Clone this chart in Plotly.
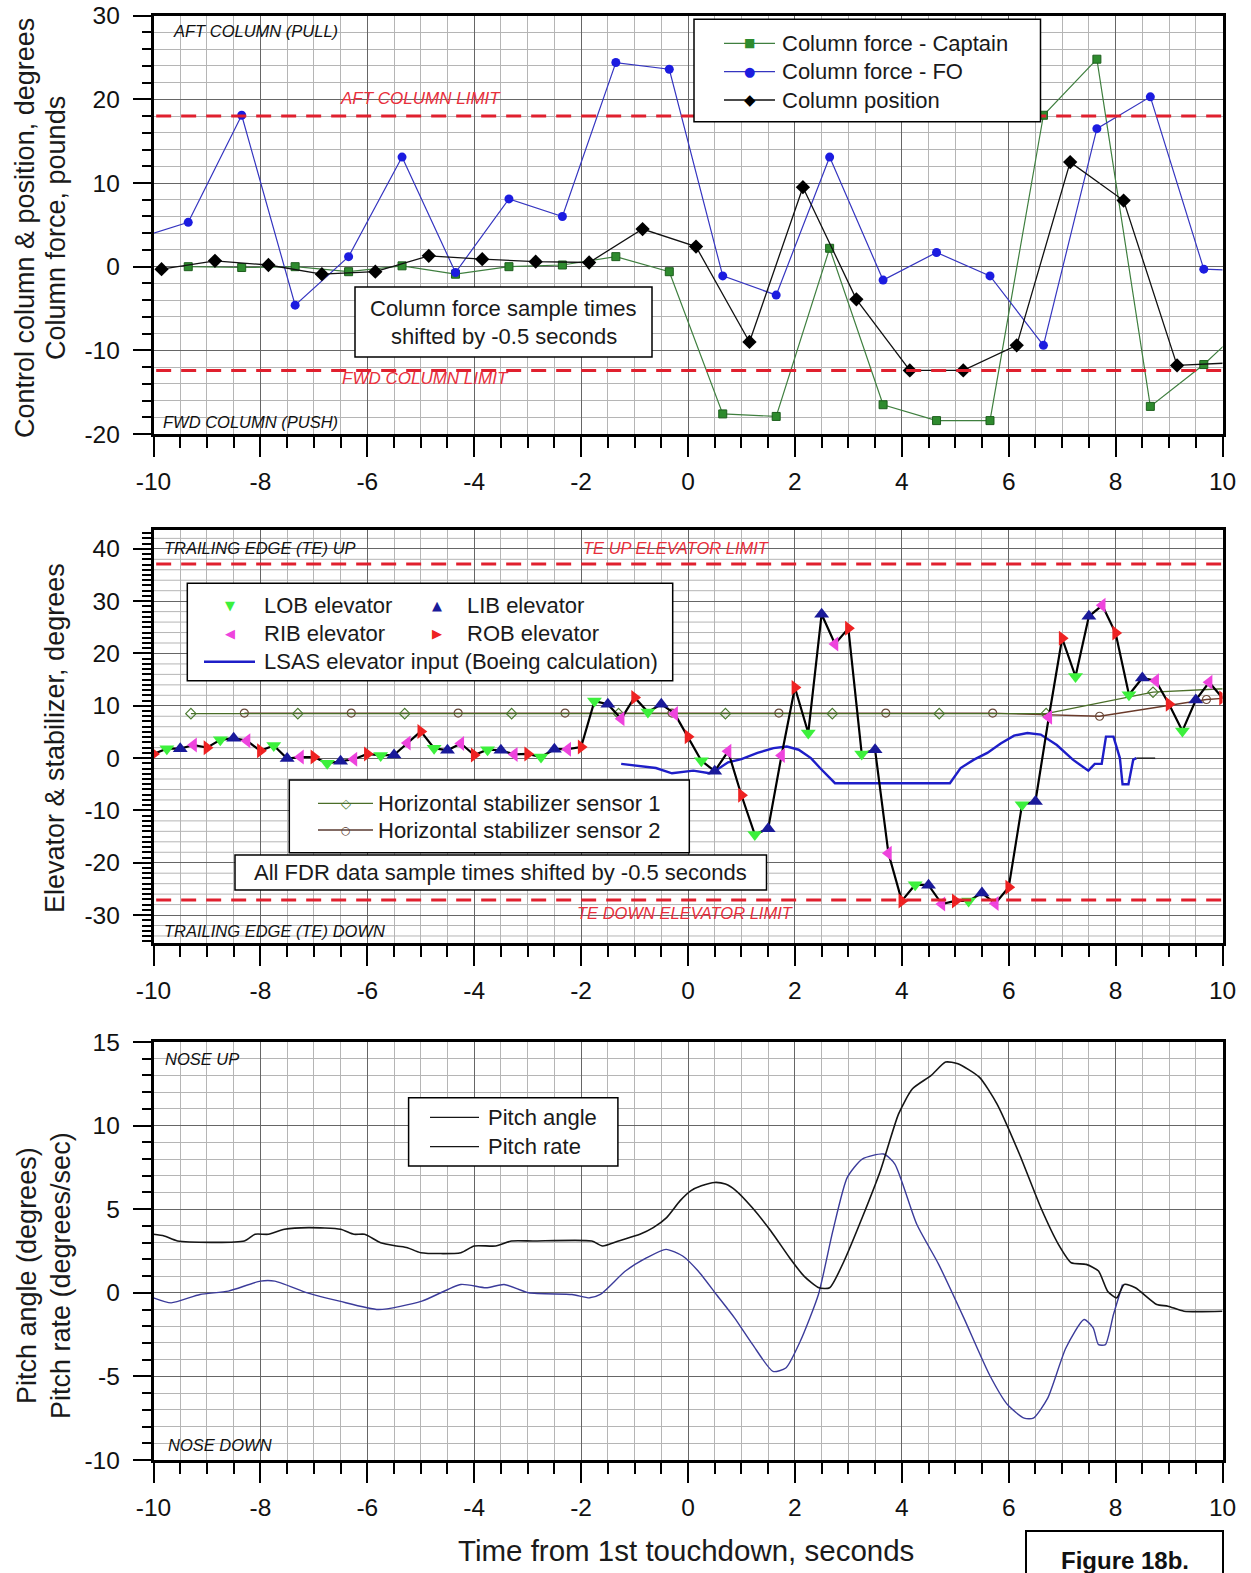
import plotly.graph_objects as go

W, H = 1251, 1573
FONT = "Liberation Sans, Arial, sans-serif"
GLYPH = "DejaVu Sans, sans-serif"

# ---------------- top panel data ----------------
fo_t = [-10.35, -9.35, -8.35, -7.35, -6.35, -5.35, -4.35, -3.35, -2.35, -1.35, -0.35,
        0.65, 1.65, 2.65, 3.65, 4.65, 5.65, 6.65, 7.65, 8.65, 9.65, 10.65]
fo_force = [3.3, 5.3, 18.1, -4.6, 1.2, 13.1, -0.7, 8.1, 6.0, 24.4, 23.6,
            -1.1, -3.4, 13.1, -1.6, 1.7, -1.1, -9.4, 16.5, 20.3, -0.3, -0.5]
captain_t = [-9.35, -8.35, -7.35, -6.35, -5.35, -4.35, -3.35, -2.35, -1.35, -0.35,
             0.65, 1.65, 2.65, 3.65, 4.65, 5.65, 6.65, 7.65, 8.65, 9.65, 10.65]
captain_force = [0.0, -0.1, 0.0, -0.6, 0.1, -0.9, 0.0, 0.2, 1.2, -0.6,
                 -17.6, -17.9, 2.2, -16.5, -18.4, -18.4, 18.1, 24.8, -16.7, -11.7, -5.7]
position_t = [-9.85, -8.85, -7.85, -6.85, -5.85, -4.85, -3.85, -2.85, -1.85, -0.85,
              0.15, 1.15, 2.15, 3.15, 4.15, 5.15, 6.15, 7.15, 8.15, 9.15, 10.15]
column_position = [-0.3, 0.7, 0.2, -0.9, -0.6, 1.3, 0.9, 0.6, 0.5, 4.5,
                   2.4, -9.0, 9.5, -3.9, -12.4, -12.4, -9.4, 12.5, 7.9, -11.8, -11.5]
AFT_LIMIT = 18.0
FWD_LIMIT = -12.4

# ---------------- middle panel data ----------------
rob_t = [-10, -9, -8, -7, -6, -5, -4, -3, -2, -1, 0, 1, 2, 3, 4, 5, 6, 7, 8, 9, 10]
rob = [0.8, 2.0, 1.4, 0.2, 0.8, 5.1, 0.6, 0.8, 2.1, 11.6, 4.1, -7.1, 13.5, 24.8,
       -27.3, -27.3, -24.7, 22.9, 23.9, 10.3, 11.5]
lob_t = [-9.75, -8.75, -7.75, -6.75, -5.75, -4.75, -3.75, -2.75, -1.75, -0.75,
         0.25, 1.25, 2.25, 3.25, 4.25, 5.25, 6.25, 7.25, 8.25, 9.25]
lob = [1.8, 3.5, 2.4, -1.0, 0.5, 1.9, 1.6, 0.2, 10.9, 8.8,
       -0.5, -14.6, 4.8, 0.8, -24.2, -27.3, -8.9, 15.6, 12.1, 5.2]
lib_t = [-9.5, -8.5, -7.5, -6.5, -5.5, -4.5, -3.5, -2.5, -1.5, -0.5,
         0.5, 1.5, 2.5, 3.5, 4.5, 5.5, 6.5, 7.5, 8.5, 9.5]
lib = [1.8, 3.8, -0.1, -0.6, 0.6, 1.5, 1.5, 1.7, 10.3, 10.3,
       -2.5, -13.5, 27.5, 1.6, -24.3, -25.8, -8.3, 27.1, 15.3, 11.1]
rib_t = [-9.25, -8.25, -7.25, -6.25, -5.25, -4.25, -3.25, -2.25, -1.25, -0.25,
         0.75, 1.75, 2.75, 3.75, 4.75, 5.75, 6.75, 7.75, 8.75, 9.75]
rib = [2.5, 3.3, 0.2, -0.2, 2.9, 2.8, 0.7, 1.7, 7.5, 8.5,
       1.3, 0.5, 21.8, -18.2, -27.9, -27.8, 7.8, 29.2, 14.8, 14.5]
lsas_t = [-1.25, -0.9, -0.6, -0.3, 0.1, 0.4, 0.5, 0.75, 1.0, 1.3, 1.6, 1.85, 2.07, 2.3,
          2.47, 2.75, 4.9, 5.1, 5.35, 5.6, 5.85, 6.1, 6.35, 6.6, 6.9, 7.2, 7.49, 7.61,
          7.74, 7.82, 7.96, 8.08, 8.13, 8.24, 8.33, 8.39]
lsas = [-1.1, -1.5, -1.9, -2.9, -2.4, -2.9, -2.5, -0.8, -0.2, 1.0, 1.9, 2.2, 1.6, 0.0,
        -1.9, -4.8, -4.8, -1.9, -0.3, 1.0, 2.8, 4.3, 4.8, 4.5, 2.5, -0.3, -2.4, -1.1,
        -1.1, 4.1, 4.1, 0.0, -5.0, -5.0, -0.3, 0.0]
lsas_tail_t = [8.39, 8.74]
lsas_tail = [0.0, 0.0]
stab1_t = [-9.3, -7.3, -5.3, -3.3, -1.3, 0.7, 2.7, 4.7, 6.7, 8.7, 10.7]
stab1 = [8.5, 8.5, 8.5, 8.5, 8.5, 8.5, 8.5, 8.5, 8.5, 12.6, 13.6]
stab2_t = [-8.3, -6.3, -4.3, -2.3, -0.3, 1.7, 3.7, 5.7, 7.7, 9.7, 11.7]
stab2 = [8.6, 8.6, 8.6, 8.6, 8.6, 8.6, 8.6, 8.6, 8.0, 11.2, 12.5]
TE_UP_LIMIT = 37.1
TE_DOWN_LIMIT = -27.1

# ---------------- bottom panel data ----------------
pitch_t = [-10, -9.8, -9.55, -8.3, -8.1, -7.85, -7.55, -7.1, -6.5, -6.25, -6.05, -5.75,
           -5.45, -5.25, -5.0, -4.25, -4.0, -3.6, -3.3, -2.9, -1.8, -1.6, -1.3, -0.9,
           -0.65, -0.4, -0.15, 0.05, 0.25, 0.5, 0.7, 0.9, 1.2, 1.55, 1.9, 2.17, 2.45,
           2.65, 2.92, 3.26, 3.6, 3.94, 4.2, 4.55, 4.82, 5.05, 5.45, 5.78, 6.2, 6.6,
           6.93, 7.17, 7.45, 7.68, 7.85, 8.02, 8.16, 8.37, 8.77, 8.98, 9.28, 10.0]
pitch_angle = [3.5, 3.4, 3.1, 3.1, 3.5, 3.5, 3.8, 3.9, 3.8, 3.5, 3.5, 3.0,
               2.8, 2.7, 2.4, 2.4, 2.8, 2.8, 3.1, 3.1, 3.1, 2.8, 3.1, 3.5,
               3.9, 4.5, 5.5, 6.1, 6.4, 6.6, 6.5, 6.1, 5.1, 3.7, 2.1, 1.0, 0.3,
               0.3, 1.9, 4.5, 7.3, 10.7, 12.2, 13.0, 13.8, 13.7, 12.9, 11.3, 8.3, 5.1,
               2.9, 1.8, 1.7, 1.3, 0.1, -0.3, 0.5, 0.3, -0.7, -0.8, -1.1, -1.1]
rate_t = [-10, -9.67, -9.13, -8.6, -8.0, -7.73, -7.12, -6.52, -5.79, -4.98, -4.25, -3.78,
          -3.44, -2.98, -2.17, -1.84, -1.64, -1.17, -0.77, -0.41, -0.1, 0.19, 0.53, 0.87,
          1.21, 1.59, 1.83, 2.1, 2.44, 2.71, 2.98, 3.26, 3.66, 3.87, 4.28, 4.69, 5.16,
          5.64, 5.98, 6.29, 6.46, 6.73, 7.07, 7.41, 7.58, 7.68, 7.81, 7.96, 8.13]
pitch_rate = [-0.3, -0.6, -0.1, 0.1, 0.7, 0.7, 0.0, -0.5, -1.0, -0.5, 0.5, 0.3,
              0.5, 0.0, -0.1, -0.3, -0.1, 1.3, 2.1, 2.6, 2.2, 1.3, -0.1, -1.5,
              -3.1, -4.7, -4.5, -2.9, -0.1, 3.7, 6.9, 8.0, 8.3, 7.7, 4.1, 1.7, -1.5,
              -4.9, -6.7, -7.5, -7.5, -6.3, -3.3, -1.6, -2.1, -3.1, -3.1, -1.3, 0.5]

# ---------------- tick labels ----------------
x_tick_vals = [-10, -8, -6, -4, -2, 0, 2, 4, 6, 8, 10]
x_tick_text = ["-10", "-8", "-6", "-4", "-2", "0", "2", "4", "6", "8", "10"]
y1_tick_vals = [-20, -10, 0, 10, 20, 30]
y1_tick_text = ["-20", "-10", "0", "10", "20", "30"]
y2_tick_vals = [-30, -20, -10, 0, 10, 20, 30, 40]
y2_tick_text = ["-30", "-20", "-10", "0", "10", "20", "30", "40"]
y3_tick_vals = [-10, -5, 0, 5, 10, 15]
y3_tick_text = ["-10", "-5", "0", "5", "10", "15"]


def px(x):
    return x / W


def py(y):
    return 1 - y / H


fig = go.Figure()

# top panel traces
fig.add_trace(go.Scatter(x=captain_t, y=captain_force, mode="lines+markers", xaxis="x", yaxis="y",
                         line=dict(color="#3f7f3f", width=1.2),
                         marker=dict(symbol="square", size=8, color="#2e8b2e",
                                     line=dict(color="#1d5e1d", width=1))))
fig.add_trace(go.Scatter(x=fo_t, y=fo_force, mode="lines+markers", xaxis="x", yaxis="y",
                         line=dict(color="#3535c0", width=1.2),
                         marker=dict(symbol="circle", size=9, color="#1c1ce0")))
fig.add_trace(go.Scatter(x=position_t, y=column_position, mode="lines+markers", xaxis="x", yaxis="y",
                         line=dict(color="#111111", width=1.3),
                         marker=dict(symbol="diamond", size=11, color="#000000")))

# middle panel traces
fig.add_trace(go.Scatter(x=stab2_t, y=stab2, mode="lines+markers", xaxis="x2", yaxis="y2",
                         line=dict(color="#6a3a2a", width=1.3),
                         marker=dict(symbol="circle-open", size=8, color="#6a4a3a", line=dict(width=1.2))))
fig.add_trace(go.Scatter(x=stab1_t, y=stab1, mode="lines+markers", xaxis="x2", yaxis="y2",
                         line=dict(color="#4a6e28", width=1.3),
                         marker=dict(symbol="diamond-open", size=8, color="#4a7a30", line=dict(width=1.2))))
fig.add_trace(go.Scatter(x=lsas_t, y=lsas, mode="lines", xaxis="x2", yaxis="y2",
                         line=dict(color="#1e1ec8", width=2.4)))
fig.add_trace(go.Scatter(x=lsas_tail_t, y=lsas_tail, mode="lines", xaxis="x2", yaxis="y2",
                         line=dict(color="#111111", width=1.3)))

elev_pairs = sorted(list(zip(rob_t, rob)) + list(zip(lob_t, lob)) +
                    list(zip(lib_t, lib)) + list(zip(rib_t, rib)))
fig.add_trace(go.Scatter(x=[p[0] for p in elev_pairs], y=[p[1] for p in elev_pairs],
                         mode="lines", xaxis="x2", yaxis="y2",
                         line=dict(color="#000000", width=2.2)))
for tt, vv, sym, col in [(lob_t, lob, "triangle-down", "#3cf03c"),
                         (lib_t, lib, "triangle-up", "#1a1a9a"),
                         (rib_t, rib, "triangle-left", "#ee44dd"),
                         (rob_t, rob, "triangle-right", "#ee2222")]:
    fig.add_trace(go.Scatter(x=tt, y=vv, mode="markers", xaxis="x2", yaxis="y2",
                             marker=dict(symbol=sym, size=13, color=col)))

# bottom panel traces
fig.add_trace(go.Scatter(x=rate_t, y=pitch_rate, mode="lines", xaxis="x3", yaxis="y3",
                         line=dict(color="#3b3b9a", width=1.4, shape="spline", smoothing=0.6)))
fig.add_trace(go.Scatter(x=pitch_t, y=pitch_angle, mode="lines", xaxis="x3", yaxis="y3",
                         line=dict(color="#151515", width=1.6, shape="spline", smoothing=0.6)))

X_DOM = [px(153.5), px(1222.5)]
Y1_DOM = [py(434), py(15.7)]
Y2_DOM = [py(943.3), py(530)]
Y3_DOM = [py(1460), py(1042)]

tickfont = dict(family=FONT, size=24.5, color="#111111")
GRID_MAJ = "#666666"
GRID_MIN = "#b5b5b5"


def xaxis_cfg(anchor):
    return dict(domain=X_DOM, anchor=anchor, range=[-10, 10], tickmode="array",
                tickvals=x_tick_vals, ticktext=x_tick_text, ticks="outside", ticklen=20,
                tickwidth=2.2, tickcolor="black", showline=True, linewidth=2.5, linecolor="black",
                mirror=True, showgrid=True, gridcolor=GRID_MAJ, gridwidth=1.2, zeroline=False,
                tickfont=tickfont, ticklabelstandoff=4, automargin=False,
                minor=dict(tickmode="linear", tick0=-10, dtick=0.5, ticks="outside", ticklen=11,
                           tickwidth=2, tickcolor="black", showgrid=True, gridcolor=GRID_MIN,
                           gridwidth=1))


def yaxis_cfg(anchor, dom, rng, vals, text, mdt, mgrid):
    return dict(domain=dom, anchor=anchor, range=rng, tickmode="array", tickvals=vals,
                ticktext=text, ticks="outside", ticklen=18, tickwidth=2.2, tickcolor="black",
                showline=True, linewidth=2.5, linecolor="black", mirror=True, showgrid=True,
                gridcolor=GRID_MAJ, gridwidth=1.2, zeroline=False, tickfont=tickfont,
                ticklabelstandoff=8, automargin=False,
                minor=dict(tickmode="linear", tick0=0, dtick=mdt, ticks="outside", ticklen=9,
                           tickwidth=2, tickcolor="black", showgrid=mgrid, gridcolor=GRID_MIN,
                           gridwidth=1))


shapes = []
ann = []

# extra 2-degree grid for middle panel (ticks are every degree)
for v in range(-34, 44, 2):
    if v % 10 != 0:
        shapes.append(dict(type="line", xref="x2 domain", yref="y2", x0=0, x1=1, y0=v, y1=v,
                           line=dict(color=GRID_MIN, width=1), layer="below"))

# limit lines
LIMIT_RED = "#e0202e"
for xr, yr, val in [("x", "y", AFT_LIMIT), ("x", "y", FWD_LIMIT),
                    ("x2", "y2", TE_UP_LIMIT), ("x2", "y2", TE_DOWN_LIMIT)]:
    shapes.append(dict(type="line", xref=xr, yref=yr, x0=-9.95, x1=10, y0=val, y1=val,
                       line=dict(color=LIMIT_RED, width=3, dash="15px,10px"), layer="above"))


def rect(x0, y0, x1, y1, lw=1.5):
    shapes.append(dict(type="rect", xref="paper", yref="paper", x0=px(x0), x1=px(x1),
                       y0=py(y1), y1=py(y0), line=dict(color="black", width=lw),
                       fillcolor="white", layer="above"))


def seg(x0, x1, y, color, width):
    shapes.append(dict(type="line", xref="paper", yref="paper", x0=px(x0), x1=px(x1),
                       y0=py(y), y1=py(y), line=dict(color=color, width=width), layer="above"))


def text(x, y, s, size, color="#1a1a1a", anchor="left", family=FONT, angle=0):
    ann.append(dict(x=px(x), y=py(y), xref="paper", yref="paper", text=s, showarrow=False,
                    xanchor=anchor, yanchor="middle", textangle=angle,
                    font=dict(size=size, color=color, family=family)))


RED_TXT = "#e8303c"
LBL = "#111111"
# ---- top panel decorations ----
text(171, 31.5, "<i>AFT COLUMN (PULL)</i>", 16.5, LBL)
text(338, 99, "<i>AFT COLUMN LIMIT</i>", 17, RED_TXT)
text(340, 379, "<i>FWD COLUMN LIMIT</i>", 17, RED_TXT)
text(161, 422, "<i>FWD COLUMN (PUSH)</i>", 16.5, LBL)

rect(355, 287, 652, 357)
text(503.5, 308, "Column force sample times", 22, anchor="center")
text(503.5, 336.5, "shifted by -0.5 seconds", 22, anchor="center")

rect(694, 19.3, 1040.5, 121.7)
for yy, col, glyph, gsize, label in [(43.3, "#3f7f3f", "■", 12, "Column force - Captain"),
                                     (71.7, "#3535c0", "●", 13, "Column force - FO"),
                                     (100, "#111111", "◆", 15, "Column position")]:
    seg(724, 775, yy, col, 1.3)
    gcol = {"#3f7f3f": "#2e8b2e", "#3535c0": "#1c1ce0"}.get(col, "#000000")
    text(749.5, yy, glyph, gsize, gcol, anchor="center", family=GLYPH)
    text(780, yy, label, 22)

# ---- middle panel decorations ----
text(162, 547.5, "<i>TRAILING EDGE (TE) UP</i>", 16.5, LBL)
text(581, 547.5, "<i>TE UP ELEVATOR LIMIT</i>", 16.5, RED_TXT)
text(575, 913, "<i>TE DOWN ELEVATOR LIMIT</i>", 16.5, RED_TXT)
text(162, 931, "<i>TRAILING EDGE (TE) DOWN</i>", 16.5, LBL)

rect(187.3, 583.3, 672.7, 680.7)
for gx, tx, yy, glyph, gcol, label in [(230, 262, 605, "▼", "#3cf03c", "LOB elevator"),
                                       (437, 465, 605, "▲", "#1a1a9a", "LIB elevator"),
                                       (230, 262, 633.3, "◀", "#ee44dd", "RIB elevator"),
                                       (437, 465, 633.3, "▶", "#ee2222", "ROB elevator")]:
    text(gx, yy, glyph, 13, gcol, anchor="center", family=GLYPH)
    text(tx, yy, label, 22)
seg(204, 255, 661.7, "#1e1ec8", 2.5)
text(262, 661.7, "LSAS elevator input (Boeing calculation)", 22)

rect(289.3, 780, 689.3, 852.7)
seg(318, 373, 803.3, "#4a6e28", 1.3)
text(345.5, 803.3, "◇", 13, "#4a7a30", anchor="center", family=GLYPH)
text(376, 803.3, "Horizontal stabilizer sensor 1", 22)
seg(318, 373, 830, "#5a3a30", 1.3)
text(345.5, 830, "○", 11, "#5a3a30", anchor="center", family=GLYPH)
text(376, 830, "Horizontal stabilizer sensor 2", 22)

rect(235, 855, 766.5, 890)
text(500.7, 872.5, "All FDR data sample times shifted by -0.5 seconds", 22, anchor="center")

# ---- bottom panel decorations ----
text(163, 1059, "<i>NOSE UP</i>", 16.5, LBL)
text(166, 1445, "<i>NOSE DOWN</i>", 16.5, LBL)
rect(408.6, 1097.7, 617.9, 1166)
seg(430, 479, 1117.3, "#151515", 1.3)
text(486, 1117.3, "Pitch angle", 22)
seg(430, 479, 1146.7, "#151515", 1.3)
text(486, 1146.7, "Pitch rate", 22)

# ---- axis titles ----
TITLE_C = "#1a1a1a"
text(25, 228, "Control column & position, degrees", 27, TITLE_C, anchor="center", angle=-90)
text(56, 228, "Column force, pounds", 27, TITLE_C, anchor="center", angle=-90)
text(55, 738, "Elevator & stabilizer, degrees", 27, TITLE_C, anchor="center", angle=-90)
text(27, 1276, "Pitch angle (degrees)", 27, TITLE_C, anchor="center", angle=-90)
text(61, 1276, "Pitch rate (degrees/sec)", 27, TITLE_C, anchor="center", angle=-90)
text(686, 1550, "Time from 1st touchdown, seconds", 29.5, TITLE_C, anchor="center")

rect(1026, 1531, 1223, 1590, lw=2)
text(1124.5, 1560, "<b>Figure 18b.</b>", 24, "#111111", anchor="center")

fig.update_layout(
    width=W, height=H, margin=dict(l=0, r=0, t=0, b=0, autoexpand=False),
    paper_bgcolor="white", plot_bgcolor="rgba(0,0,0,0)", showlegend=False,
    font=dict(family=FONT, color="#111111"),
    xaxis=xaxis_cfg("y"),
    xaxis2=xaxis_cfg("y2"),
    xaxis3=xaxis_cfg("y3"),
    yaxis=yaxis_cfg("x", Y1_DOM, [-20, 30], y1_tick_vals, y1_tick_text, 2, True),
    yaxis2=yaxis_cfg("x2", Y2_DOM, [-35.4, 43.6], y2_tick_vals, y2_tick_text, 1, False),
    yaxis3=yaxis_cfg("x3", Y3_DOM, [-10, 15], y3_tick_vals, y3_tick_text, 1, True),
    shapes=shapes, annotations=ann,
)

fig.write_html("out.html")
